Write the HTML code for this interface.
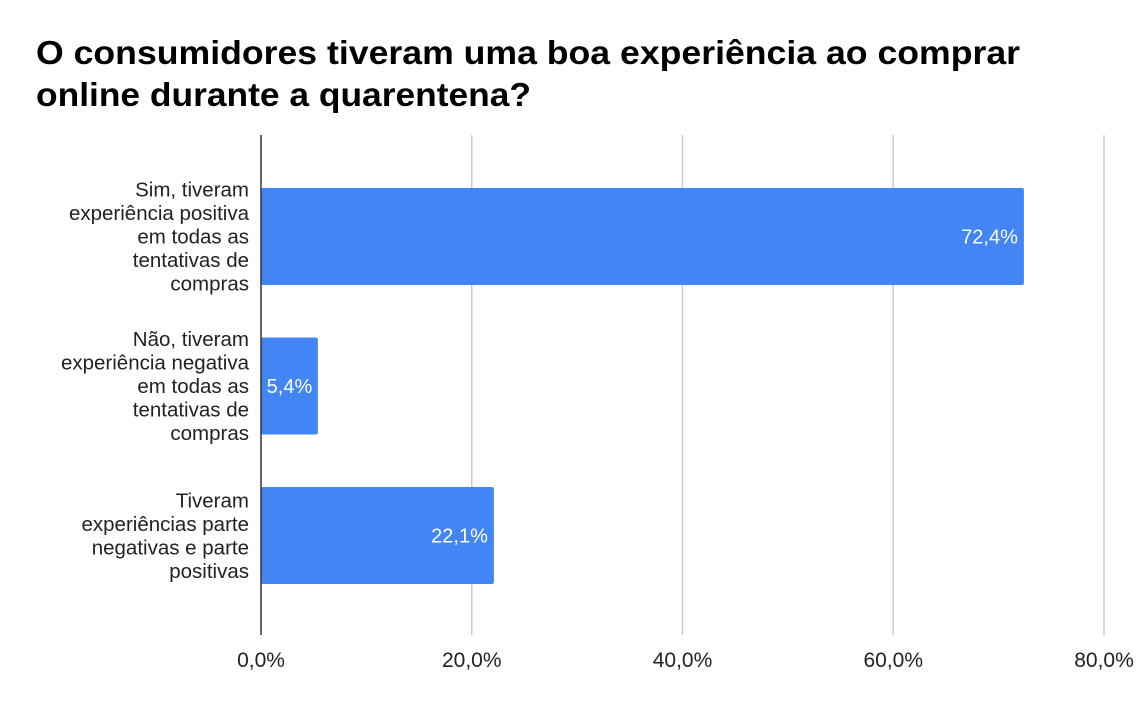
<!DOCTYPE html>
<html><head><meta charset="utf-8">
<style>
body{margin:0;background:#fff;width:1140px;height:705px;overflow:hidden;font-family:"Liberation Sans",Arial,sans-serif;}
</style></head>
<body>
<svg id="chart" width="1140" height="705" xmlns="http://www.w3.org/2000/svg" font-family="Liberation Sans, Arial, sans-serif">
<text x="36" y="64" font-size="33" font-weight="bold" fill="#000" textLength="984" lengthAdjust="spacingAndGlyphs">O consumidores tiveram uma boa experiência ao comprar</text>
<text x="36" y="106" font-size="33" font-weight="bold" fill="#000" textLength="495" lengthAdjust="spacingAndGlyphs">online durante a quarentena?</text>
<g id="grid"></g><g id="bars"></g><g id="labels"></g>
</svg>
<script>
const categories=[
 ["Sim, tiveram","experiência positiva","em todas as","tentativas de","compras"],
 ["Não, tiveram","experiência negativa","em todas as","tentativas de","compras"],
 ["Tiveram","experiências parte","negativas e parte","positivas"]];
const values=[72.4,5.4,22.1];
const valueLabels=["72,4%","5,4%","22,1%"];
const ticks=[0,20,40,60,80];
const tickLabels=["0,0%","20,0%","40,0%","60,0%","80,0%"];
const NS="http://www.w3.org/2000/svg";
const x0=261,pxPer=(1104-261)/80,plotTop=135,plotBottom=635,c0=236.5,step=149.5,bh=97;
const xs=v=>x0+v*pxPer;
function mk(t,a,p){const e=document.createElementNS(NS,t);for(const k in a)e.setAttribute(k,a[k]);p.appendChild(e);return e;}
const grid=document.getElementById('grid'),bars=document.getElementById('bars'),lab=document.getElementById('labels');
ticks.forEach((t,i)=>{
 if(t>0){const l=mk('line',{x1:xs(t),x2:xs(t),y1:plotTop,y2:plotBottom,stroke:'#ccc','stroke-width':1.5},grid);
 
 }
 const tx=mk('text',{x:xs(t),y:667,'font-size':21,'text-anchor':'middle',fill:'#222'},lab);
 tx.textContent=tickLabels[i];
 
 
});
values.forEach((v,i)=>{
 const cy=c0+i*step;
 const r=mk('rect',{x:x0,y:cy-bh/2,width:xs(v)-x0,height:bh,fill:'#4285f4',rx:2},bars);
 
 
 const w=xs(v)-x0;
 const vt=mk('text',{x:xs(v)-6,y:cy+7,'font-size':20,'text-anchor':'end',fill:'#fff'},lab);
 if(w<70){vt.setAttribute('x',x0+w/2);vt.setAttribute('text-anchor','middle');}
 vt.textContent=valueLabels[i];
 
 
 const lines=categories[i],lh=23.5,start=cy-(lines.length-1)*lh/2+7;
 lines.forEach((s,j)=>{
  const t=mk('text',{x:249,y:start+j*lh,'font-size':20.5,'text-anchor':'end',fill:'#222'},lab);
  t.textContent=s;
  
  
 });
});
const ax=mk('line',{x1:x0,x2:x0,y1:plotTop,y2:plotBottom,stroke:'#333','stroke-width':1.5},lab);


</script>
</body></html>
